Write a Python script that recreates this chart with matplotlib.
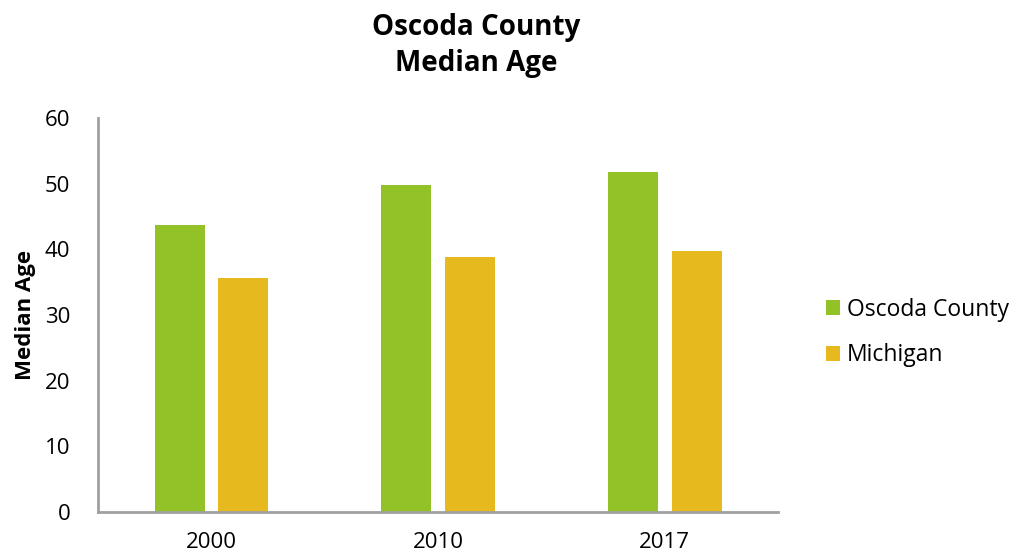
import matplotlib
matplotlib.use("Agg")
import matplotlib.pyplot as plt
import numpy as np

plt.rcParams['font.family'] = ['Open Sans', 'DejaVu Sans']

years = ["2000", "2010", "2017"]
oscoda = [43.7, 49.8, 51.8]
michigan = [35.6, 38.9, 39.7]
series_names = ["Oscoda County", "Michigan"]
colors = ["#92C227", "#E6B91E"]

fig = plt.figure(figsize=(10.2, 5.56), dpi=100)
ax = fig.add_axes([0.096, 0.079, 0.667, 0.709])

x = np.arange(len(years))
w = 0.22
ax.bar(x - 0.14, oscoda, width=w, color=colors[0], label=series_names[0])
ax.bar(x + 0.14, michigan, width=w, color=colors[1], label=series_names[1])

ax.set_xlim(-0.5, 2.5)
ax.set_ylim(0, 60)
ax.set_yticks(range(0, 61, 10))
ax.set_xticks(x)
ax.set_xticklabels(years)
ax.tick_params(axis='x', length=0, labelsize=16, pad=14)
ax.tick_params(axis='y', length=0, labelsize=16, pad=20)
for s in ['top', 'right']:
    ax.spines[s].set_visible(False)
for s in ['left', 'bottom']:
    ax.spines[s].set_color('#A0A0A0')
    ax.spines[s].set_linewidth(2)

ax.set_ylabel("Median Age", fontsize=16, fontweight='bold', labelpad=6)

fig.text(476/1020, 1 - 27/556, "Oscoda County", ha='center', va='center',
         fontsize=20, fontweight='bold')
fig.text(476/1020, 1 - 63/556, "Median Age", ha='center', va='center',
         fontsize=20, fontweight='bold')

leg = fig.legend(loc='center left', bbox_to_anchor=(0.79, 0.402), frameon=False,
                 fontsize=16.5, handlelength=0.6, handleheight=0.6,
                 handletextpad=0.3, labelspacing=0.95)

fig.savefig("out.png", dpi=100)
